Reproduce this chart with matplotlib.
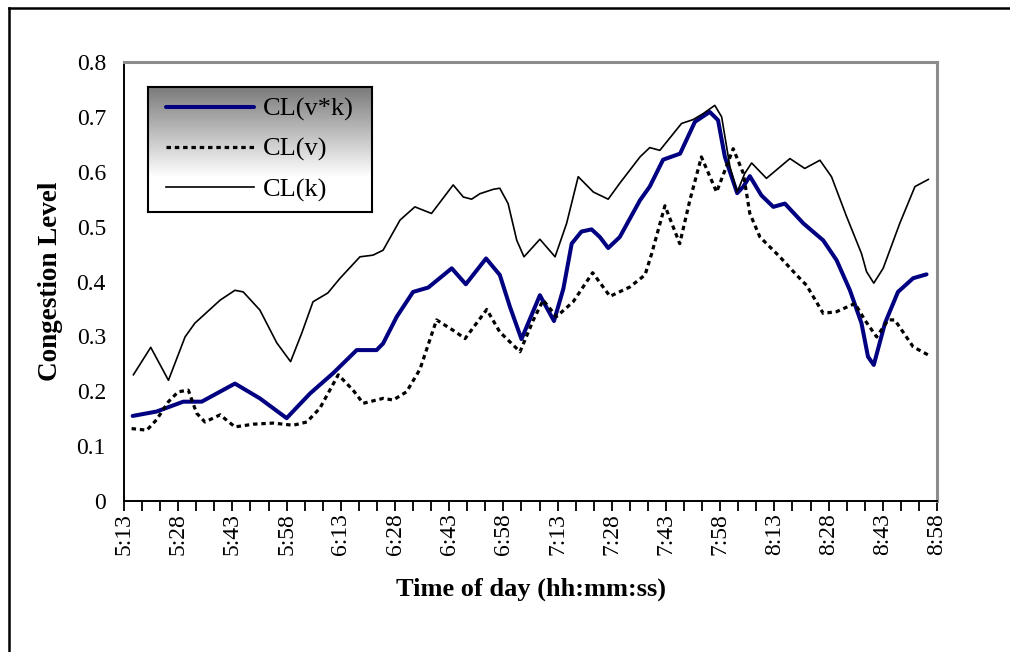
import matplotlib

matplotlib.use("Agg")

import matplotlib.pyplot as plt
import numpy as np
from matplotlib.lines import Line2D

plt.rcParams["font.family"] = ["Liberation Serif", "DejaVu Serif"]

# sample times are minutes after 5:13
k_t = [2.6, 7.4, 12.3, 16.9, 19.6, 26.6, 30.7, 33.0, 37.6, 42.3, 46.1, 49.2, 52.3, 56.4,
       59.8, 65.3, 68.9, 71.7, 76.4, 80.5, 85.1, 91.1, 93.9, 96.2, 98.5, 102.2, 104.0,
       106.3, 108.7, 110.7, 115.1, 119.3, 122.5, 125.7, 129.9, 134.0, 137.2, 142.8, 145.5,
       148.3, 154.3, 157.5, 160.3, 163.5, 165.4, 167.7, 169.7, 171.8, 173.7, 177.8, 184.3,
       188.4, 192.6, 195.8, 200.0, 204.1, 205.5, 207.5, 210.1, 214.7, 218.9, 222.6]
k_val = [.230, .280, .220, .299, .324, .366, .384, .381, .348, .288, .254, .306, .363, .379,
         .406, .445, .448, .457, .512, .536, .524, .576, .554, .550, .560, .568, .570,
         .542, .475, .445, .477, .445, .506, .591, .563, .550, .579, .627, .644,
         .639, .688, .695, .706, .721, .700, .609, .563, .597, .616, .588, .624,
         .606, .621, .591, .518, .451, .418, .397, .424, .506, .573, .586]

vk_t = [2.4, 9.0, 16.4, 21.5, 30.7, 37.6, 45.0, 51.5, 57.9, 64.4, 69.9, 71.7, 75.5, 80.0,
        84.2, 90.7, 94.6, 100.2, 104.0, 106.8, 110.0, 115.1, 119.0, 121.6, 123.9, 126.6,
        129.4, 131.7, 134.0, 137.2, 142.8, 145.5, 149.2, 153.9, 158.0, 162.1, 164.4, 166.3,
        169.7, 171.4, 173.2, 176.4, 179.7, 182.9, 188.0, 193.5, 197.2, 200.9, 204.1, 205.9,
        207.5, 210.6, 214.2, 218.4, 222.1]
vk_val = [.155, .163, .181, .181, .214, .187, .151, .196, .233, .275, .275, .287, .336, .381,
          .389, .424, .395, .442, .412, .354, .295, .375, .328, .387, .469, .491,
          .495, .481, .461, .481, .548, .573, .622, .633, .691, .709, .694, .627,
          .561, .573, .592, .557, .536, .542, .506, .475, .439, .384, .324, .263,
          .248, .324, .381, .406, .413]

v_t = [2.1, 6.3, 9.0, 12.3, 15.0, 17.8, 20.1, 22.4, 26.6, 30.7, 35.8, 41.3, 46.8, 50.6, 54.2,
       59.3, 63.4, 66.2, 71.7, 74.5, 78.2, 81.9, 86.5, 91.1, 94.4, 100.4, 104.0, 109.6,
       113.3, 116.0, 119.7, 124.3, 129.7, 134.5, 140.0, 144.2, 146.0, 149.7, 153.8, 156.6,
       159.8, 164.0, 168.6, 171.4, 173.2, 176.0, 181.5, 186.1, 188.9, 193.5, 197.2, 202.3,
       205.0, 208.3, 211.5, 213.3, 218.4, 222.6]
v_val = [.132, .129, .148, .181, .199, .202, .160, .144, .157, .135, .140, .142, .138, .144, .169,
         .230, .202, .178, .187, .184, .199, .240, .330, .311, .296, .349, .308, .272,
         .330, .366, .336, .363, .416, .373, .390, .412, .450, .538, .469, .548,
         .627, .563, .642, .597, .524, .481, .445, .412, .393, .342, .345, .360,
         .330, .299, .330, .330, .281, .266]

tick_labels = ["5:13", "5:28", "5:43", "5:58", "6:13", "6:28", "6:43", "6:58",
               "7:13", "7:28", "7:43", "7:58", "8:13", "8:28", "8:43", "8:58"]

W, H = 1010, 652
fig = plt.figure(figsize=(W / 100, H / 100), dpi=100)
ax = fig.add_axes([124 / W, 1 - 501 / H, (937 - 124) / W, (501 - 62) / H])

navy = "#000080"
l_vk, = ax.plot(vk_t, vk_val, color=navy, lw=2.9, solid_joinstyle="round", solid_capstyle="round")
l_v, = ax.plot(v_t, v_val, color="black", lw=2.3, ls=(0, (1.4, 1.2)))
l_k, = ax.plot(k_t, k_val, color="black", lw=1.2, solid_joinstyle="round")

ax.set_xlim(0, 225)
ax.set_ylim(0, 0.8)

ticks = np.arange(0, 226, 5)
ax.set_xticks(ticks)
ax.set_xticklabels([tick_labels[i // 3] if i % 3 == 0 else "" for i in range(len(ticks))],
                   rotation=90, fontsize=17)
ax.tick_params(axis="x", length=7, width=1.3, direction="out", pad=2)

ax.set_yticks(np.arange(0, 0.81, 0.1))
ax.set_yticklabels(["0"] + [f"{v:.1f}" for v in np.arange(0.1, 0.81, 0.1)], fontsize=17)
ax.tick_params(axis="y", length=0, pad=13)
ax.set_yticks([0], minor=True)
ax.tick_params(axis="y", which="minor", length=8, width=1.3)

for s in ("left", "bottom"):
    ax.spines[s].set_color("black")
    ax.spines[s].set_linewidth(1.4)
for s in ("top", "right"):
    ax.spines[s].set_color("#8c8c8c")
    ax.spines[s].set_linewidth(2.2)

ax.set_ylabel("Congestion Level", fontsize=19.5, fontweight="bold", labelpad=10)
ax.set_xlabel("Time of day (hh:mm:ss)", fontsize=19, fontweight="bold", labelpad=16)

# legend box with a dark-to-white vertical gradient
lax = fig.add_axes([148 / W, 1 - 212 / H, (372 - 148) / W, (212 - 87) / H])
grad = np.linspace(0.40, 1.0, 256)
grad = np.clip(grad * 1.2, 0, 1)[:, None]
lax.imshow(grad, cmap="gray", vmin=0, vmax=1, aspect="auto", extent=[0, 1, 0, 1],
           origin="upper")
lax.set_xticks([])
lax.set_yticks([])
for s in lax.spines.values():
    s.set_linewidth(1.5)
    s.set_color("black")
lax.legend([l_vk, l_v, l_k], ["CL(v*k)", "CL(v)", "CL(k)"], loc="center left",
           frameon=False, fontsize=19, handlelength=3.3, handletextpad=0.35,
           labelspacing=0.62, borderaxespad=0.3)

# outer frame
fig.add_artist(Line2D([8.5 / W, 1.0], [1 - 7.5 / H, 1 - 7.5 / H], color="black", lw=1.8))
fig.add_artist(Line2D([8.5 / W, 8.5 / W], [0, 1 - 7.5 / H], color="black", lw=1.8))

fig.savefig("out.png", dpi=100)
